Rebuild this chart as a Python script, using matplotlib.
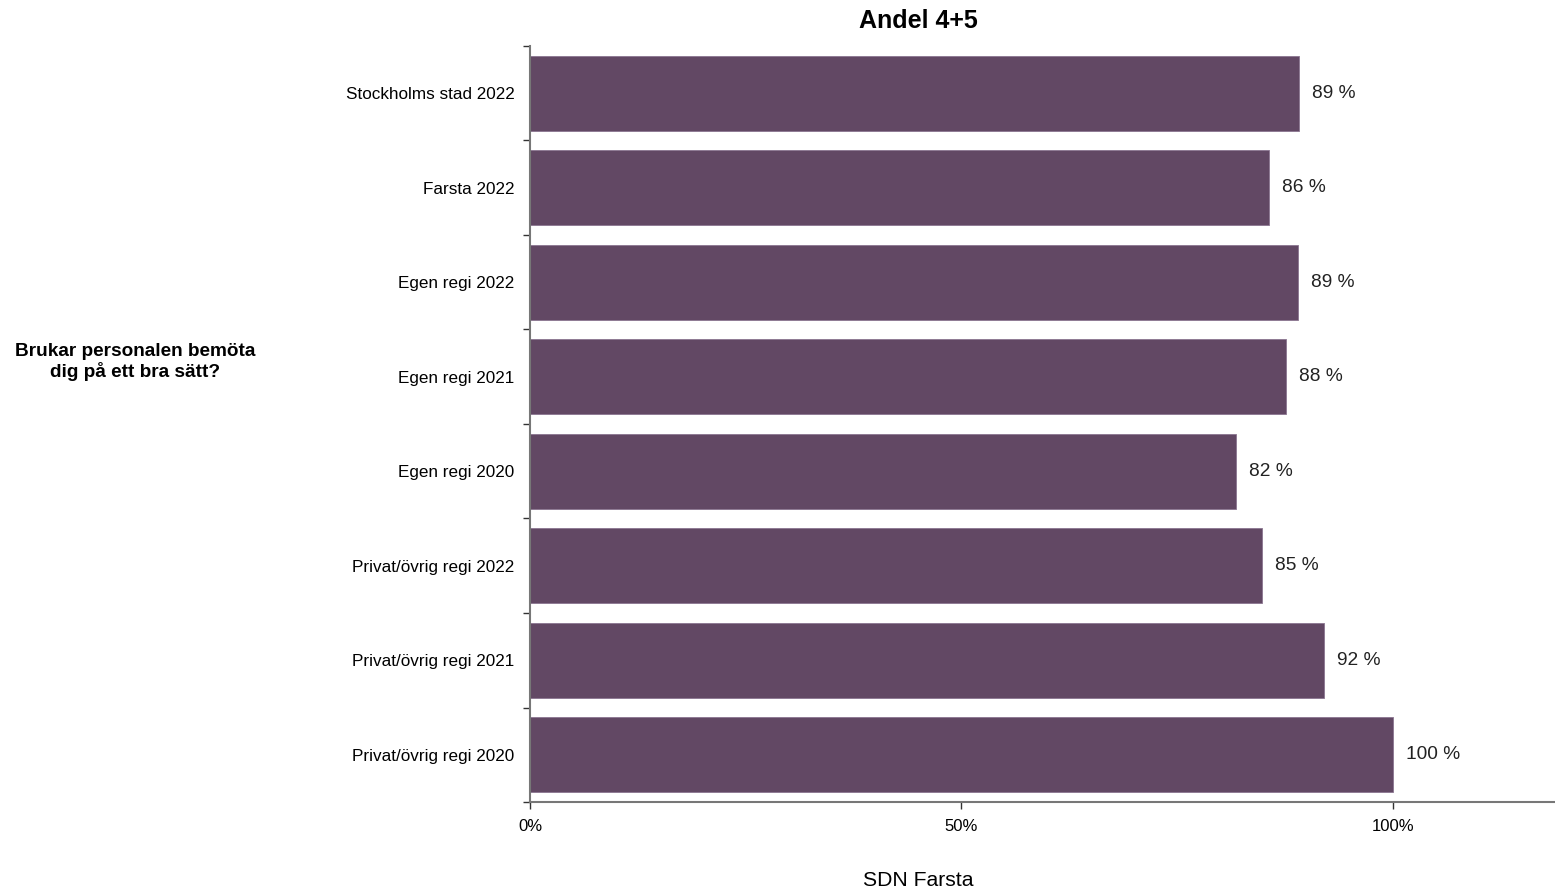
import matplotlib
matplotlib.use("Agg")
import matplotlib.pyplot as plt
from matplotlib.ticker import FixedLocator, PercentFormatter

plt.rcParams["font.family"] = ["Liberation Sans", "DejaVu Sans"]

# data
categories = [
    "Stockholms stad 2022",
    "Farsta 2022",
    "Egen regi 2022",
    "Egen regi 2021",
    "Egen regi 2020",
    "Privat/övrig regi 2022",
    "Privat/övrig regi 2021",
    "Privat/övrig regi 2020",
]
values = [0.892, 0.857, 0.890, 0.876, 0.819, 0.849, 0.920, 1.0]
labels = ["89 %", "86 %", "89 %", "88 %", "82 %", "85 %", "92 %", "100 %"]
question = "Brukar personalen bemöta\ndig på ett bra sätt?"
bar_color = "#624864"

fig = plt.figure(figsize=(15.55, 8.93), dpi=100)
ax = fig.add_axes([0.3408, 0.1019, 0.6585, 0.8466])

pos = list(range(len(categories)))[::-1]
ax.barh(pos, values, height=0.79, color=bar_color, edgecolor="#8a7590", linewidth=0.6)

for p, v, t in zip(pos, values, labels):
    ax.text(v + 0.015, p, t, va="center", ha="left", fontsize=13.8, color="#222222")

ax.set_xlim(0, 1.187)
ax.set_ylim(-0.5, len(categories) - 0.5)

ax.set_xticks([0, 0.5, 1.0])
ax.xaxis.set_major_formatter(PercentFormatter(1.0, decimals=0))
ax.tick_params(axis="x", labelsize=12, length=5, color="#333333", pad=7, width=1)

# kategorietiketter i mitten, tickmarkeringar vid gränserna
ax.set_yticks(pos)
ax.set_yticklabels(categories, fontsize=12.3)
ax.tick_params(axis="y", which="major", length=0, pad=11)
ax.yaxis.set_minor_locator(FixedLocator([i - 0.5 for i in range(len(categories) + 1)]))
ax.tick_params(axis="y", which="minor", length=5, color="#333333", width=1)

for s in ["top", "right"]:
    ax.spines[s].set_visible(False)
for s in ["left", "bottom"]:
    ax.spines[s].set_color("#777777")
    ax.spines[s].set_linewidth(1.5)

fig.text(0.5905, 0.977, "Andel 4+5", ha="center", va="center", fontsize=18, fontweight="bold")
fig.text(0.5905, 0.014, "SDN Farsta", ha="center", va="center", fontsize=15.2)
fig.text(0.0871, 0.5946, question, ha="center", va="center", fontsize=13.7, fontweight="bold",
         linespacing=1.15)

fig.savefig("out.png", dpi=100)
